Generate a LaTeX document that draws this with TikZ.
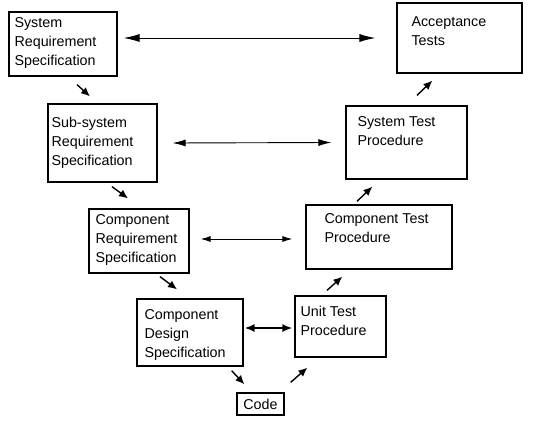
\documentclass[tikz,border=0pt]{standalone}
\usepackage{fontspec}
\setmainfont{Liberation Sans}
\usetikzlibrary{arrows.meta}
\newcommand{\vstage}[6]{\node[stage,minimum width=#3,minimum height=#4] at (#1) (#2) {}; \node[stagetext] at ([shift={(#5)}]#2.north west) (#2txt) {#6}}

\begin{document}
\begin{tikzpicture}[x=1pt,y=-1pt,
	stage/.style={draw,line width=1.3pt,inner sep=0},
	stagetext/.style={anchor=north west,align=left,inner sep=0,font=\fontsize{14.3}{19}\selectfont},
	flow/.style={line width=1.4pt,-{Latex[length=9pt,width=8pt]}},
	link/.style={line width=0.9pt,{Latex[length=12pt,width=7pt]}-{Latex[length=12pt,width=7pt]}}]
			\useasboundingbox (0,0) rectangle (537,422);
			
			\vstage{63,44}{sysreq}{108}{64}{6,6}{System\\Requirement\\Specification};
			\vstage{102.5,143}{subreq}{109}{78}{4,14}{Sub-system\\Requirement\\Specification};
			\vstage{139,241}{compreq}{100}{64}{7,6}{Component\\Requirement\\Specification};
			\vstage{190,332.5}{design}{106}{67}{8,11}{Component\\Design\\Specification};
			\node[stage,minimum width=47,minimum height=22,font=\fontsize{14.3}{19}\selectfont] at (260.5,404) (code) {Code};
			\vstage{340.5,326.5}{unit}{91}{61}{6,11}{Unit Test\\Procedure};
			\vstage{379,237}{comptest}{146}{64}{19,9}{Component Test\\Procedure};
			\vstage{406.5,142.5}{systest}{121}{73}{12,11}{System Test\\Procedure};
			\vstage{459.5,38}{accept}{125}{70}{15,14}{Acceptance\\Tests};
			
			\draw[flow] ([shift={(14,8)}]sysreq.south) -- ([shift={(-12.5,-7)}]subreq.north);
			\draw[flow] ([shift={(9.5,4)}]subreq.south) -- ([shift={(-11,-10)}]compreq.north);
			\draw[flow] ([shift={(21,3)}]compreq.south) -- ([shift={(-13,-9)}]design.north);
			\draw[flow] ([shift={(-12,4)}]design.south east) -- ([shift={(8,-8)}]code.north west);
			\draw[flow] ([shift={(6,-10)}]code.north east) -- ([shift={(13,10)}]unit.south west);
			\draw[flow] ([shift={(-13.5,-5)}]unit.north) -- ([shift={(37,7)}]comptest.south west);
			\draw[flow] ([shift={(-22,-3)}]comptest.north) -- ([shift={(27,7)}]systest.south west);
			\draw[flow] ([shift={(10.5,-10)}]systest.north) -- ([shift={(36,7)}]accept.south west);
			
			\draw[link,{Latex[length=16pt,width=8pt]}-{Latex[length=16pt,width=8pt]}] ([shift={(6,-6)}]sysreq.east) -- ([shift={(-21,0)}]accept.west);
			\draw[link,{Latex[length=13pt,width=7pt]}-{Latex[length=13pt,width=7pt]}] ([shift={(15,0)}]subreq.east) -- ([shift={(-14,0)}]systest.west);
			\draw[link,{Latex[length=10pt,width=6pt]}-{Latex[length=10pt,width=6pt]}] ([shift={(11,-2)}]compreq.east) -- ([shift={(-13,2)}]comptest.west);
			\draw[link,line width=1.6pt,{Latex[length=10pt,width=8pt]}-{Latex[length=10pt,width=8pt]}] ([shift={(1,-4.5)}]design.east) -- ([shift={(-2,1.5)}]unit.west);
			
\end{tikzpicture}
\end{document}
